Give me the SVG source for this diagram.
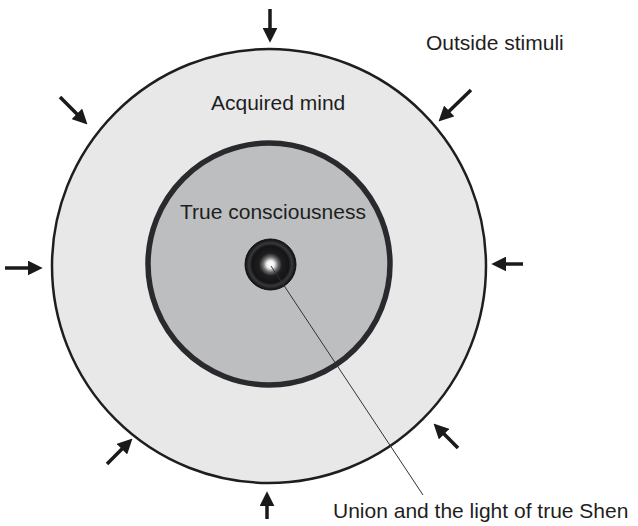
<svg xmlns="http://www.w3.org/2000/svg" width="638" height="526" viewBox="0 0 638 526">
<style>
.lbl{font-family:"Liberation Sans",Arial,sans-serif;font-size:21px;fill:#1e1e1e}
.arr{stroke:#1a1a1a;stroke-width:3.5;fill:none;marker-end:url(#ah)}
</style>
<defs>
<marker id="ah" markerUnits="userSpaceOnUse" markerWidth="15" markerHeight="15" viewBox="0 0 14 14" refX="4" refY="7" orient="auto">
<path d="M0,0 L14,7 L0,14 z" fill="#1a1a1a"/>
</marker>
<radialGradient id="core" cx="0.5" cy="0.5" r="0.5">
<stop offset="0" stop-color="#ffffff"/>
<stop offset="0.14" stop-color="#f4f4f4"/>
<stop offset="0.3" stop-color="#6a6a6a"/>
<stop offset="0.45" stop-color="#1e1e20"/>
<stop offset="0.72" stop-color="#141416"/>
<stop offset="0.84" stop-color="#38383a"/>
<stop offset="1" stop-color="#0e0e10"/>
</radialGradient>
</defs>
<rect width="638" height="526" fill="#ffffff"/>
<g id="acquired-mind">
<circle cx="269" cy="266" r="217" fill="#e8e8e8" stroke="#1e1e20" stroke-width="2.5"/>
<text class="lbl" x="211" y="110">Acquired mind</text>
</g>
<g id="true-consciousness">
<circle cx="269" cy="264" r="121" fill="#bcbec0" stroke="#2a2a2e" stroke-width="5.5"/>
<text class="lbl" x="180" y="219">True consciousness</text>
</g>
<g id="shen">
<circle cx="270.5" cy="264.5" r="25.5" fill="url(#core)" stroke="#111" stroke-width="1"/>
</g>
<g id="outside-stimuli">
<text class="lbl" x="426" y="50">Outside stimuli</text>
</g>
<g id="union-label">
<text class="lbl" x="333" y="518">Union and the light of true Shen</text>
</g>
<g id="connectors">
<line x1="271" y1="266" x2="423" y2="495" stroke="#333" stroke-width="1"/>
<line class="arr" x1="270" y1="9" x2="270" y2="32"/>
<line class="arr" x1="60" y1="97" x2="79.9" y2="116.9"/>
<line class="arr" x1="471" y1="90" x2="446.2" y2="114"/>
<line class="arr" x1="5" y1="268" x2="32" y2="268"/>
<line class="arr" x1="523" y1="264" x2="502" y2="264"/>
<line class="arr" x1="107" y1="464" x2="124.9" y2="446.1"/>
<line class="arr" x1="267" y1="519" x2="267" y2="502"/>
<line class="arr" x1="458" y1="448" x2="441.1" y2="431.1"/>
</g>
</svg>
